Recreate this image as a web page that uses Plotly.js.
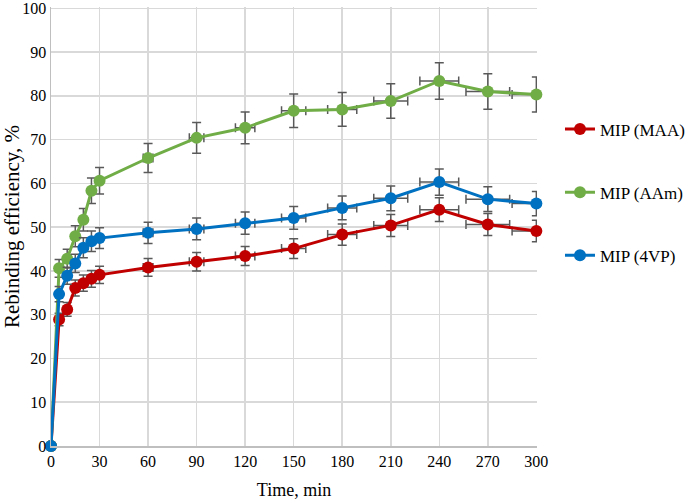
<!DOCTYPE html>
<html>
<head>
<meta charset="utf-8">
<script src="https://cdn.plot.ly/plotly-3.0.1.min.js"></script>
<style>html,body{margin:0;padding:0;background:#fff;}#chart{width:685px;height:500px;}</style>
</head>
<body>
<div id="chart"></div>
<script>
const time = [0, 5, 10, 15, 20, 25, 30, 60, 90, 120, 150, 180, 210, 240, 270, 300];
const maa  = [0, 28.9, 31.2, 36.1, 37.2, 38.2, 39.1, 40.8, 42.1, 43.4, 45.1, 48.3, 50.4, 54.0, 50.6, 49.1];
const aam  = [0, 40.6, 42.8, 47.9, 51.7, 58.3, 60.6, 65.8, 70.4, 72.7, 76.6, 76.9, 78.8, 83.4, 81.0, 80.3];
const vp4  = [0, 34.7, 38.9, 41.7, 45.3, 46.8, 47.5, 48.7, 49.6, 50.9, 52.1, 54.4, 56.6, 60.3, 56.4, 55.4];
const seriesNames = ['MIP (MAA)', 'MIP (AAm)', 'MIP (4VP)'];
const xTicks = [0, 30, 60, 90, 120, 150, 180, 210, 240, 270, 300];
const yTicks = [0, 10, 20, 30, 40, 50, 60, 70, 80, 90, 100];
const errPercent = 5;

const colors = ['#c00000', '#70ad47', '#0070c0'];
const font = "'Liberation Serif', 'Times New Roman', serif";

function mk(y, i) {
  return {
    x: time, y: y, name: seriesNames[i], type: 'scatter', mode: 'lines+markers',
    legendgroup: 'g' + i, cliponaxis: false,
    line: {color: colors[i], width: 3},
    marker: {color: colors[i], size: 12},
    error_y: {type: 'percent', value: errPercent, color: '#595959', thickness: 1.5, width: 4.5},
    error_x: {type: 'percent', value: errPercent, color: '#595959', thickness: 1.5, width: 4.5}
  };
}
const data = [mk(maa, 0), mk(aam, 1), mk(vp4, 2)];

const layout = {
  width: 685, height: 500,
  margin: {l: 50.5, r: 148, t: 7, b: 53.8},
  paper_bgcolor: '#fff', plot_bgcolor: '#fff',
  font: {family: font, size: 16, color: '#000'},
  xaxis: {
    range: [0, 300.4], tickvals: xTicks, ticktext: xTicks.map(String),
    showgrid: true, gridcolor: '#d9d9d9', gridwidth: 1.5,
    zeroline: false, showline: true, linecolor: '#bfbfbf', linewidth: 1.5,
    ticks: '', ticklen: 0, ticklabeloverflow: 'allow',
    title: {text: 'Time, min', font: {family: font, size: 18}, standoff: 14},
    tickfont: {family: font, size: 16}
  },
  yaxis: {
    range: [0, 100.3], tickvals: yTicks, ticktext: yTicks.map(String),
    showgrid: true, gridcolor: '#d9d9d9', gridwidth: 1.5,
    zeroline: false, showline: true, linecolor: '#bfbfbf', linewidth: 1.5,
    ticks: '', ticklen: 0, ticklabeloverflow: 'allow',
    title: {text: 'Rebinding efficiency, %', font: {family: font, size: 21}, standoff: 4},
    tickfont: {family: font, size: 16}
  },
  showlegend: true,
  legend: {
    xref: 'container', yref: 'container',
    x: 0.8175, xanchor: 'left', y: 0.615, yanchor: 'middle',
    font: {family: font, size: 17}, tracegroupgap: 38,
    bgcolor: 'rgba(0,0,0,0)', itemwidth: 30
  }
};

Plotly.newPlot('chart', data, layout, {displayModeBar: false, staticPlot: true});
</script>
</body>
</html>
